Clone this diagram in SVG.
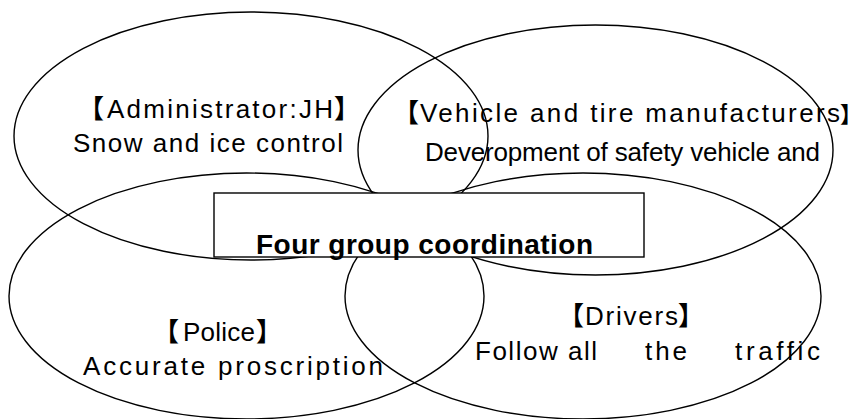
<svg xmlns="http://www.w3.org/2000/svg" width="862" height="419" viewBox="0 0 862 419">
<style>
.e{fill:none;stroke:#000;stroke-width:1.4}
.r{fill:#fff;stroke:#000;stroke-width:1.4}
.t{font-family:"Liberation Sans","Noto Sans CJK JP",sans-serif;fill:#000;font-size:26px}
.k{font-family:"Noto Sans CJK JP",sans-serif;font-weight:bold}
.b{font-weight:bold;font-size:28px}
</style>
<rect width="862" height="419" fill="#fff"/>
<g id="admin">
<ellipse class="e" cx="251" cy="136" rx="237" ry="124"/>
<text class="t" y="118"><tspan class="k" x="78">【</tspan><tspan x="107" textLength="226" lengthAdjust="spacing">Administrator:JH</tspan><tspan class="k" x="334">】</tspan></text>
<text class="t" x="73" y="152" textLength="270" lengthAdjust="spacing">Snow and ice control</text>
</g>
<g id="vehicle">
<ellipse class="e" cx="595.5" cy="150" rx="237.5" ry="125"/>
<text class="t" y="122"><tspan class="k" x="393">【</tspan><tspan x="420" textLength="420" lengthAdjust="spacing">Vehicle and tire manufacturers</tspan><tspan class="k" x="840" font-size="22">】</tspan></text>
<text class="t" x="425" y="161" font-size="21" textLength="395" lengthAdjust="spacing">Deveropment of safety vehicle and</text>
</g>
<g id="police">
<ellipse class="e" cx="246.5" cy="296" rx="237.5" ry="123"/>
<text class="t" y="341"><tspan class="k" x="153">【</tspan><tspan x="183" textLength="72" lengthAdjust="spacing">Police</tspan><tspan class="k" x="256">】</tspan></text>
<text class="t" x="83" y="375" textLength="300" lengthAdjust="spacing">Accurate proscription</text>
</g>
<g id="drivers">
<ellipse class="e" cx="583" cy="296" rx="238" ry="123"/>
<text class="t" y="325"><tspan class="k" x="558">【</tspan><tspan x="585" textLength="93" lengthAdjust="spacing">Drivers</tspan><tspan class="k" x="678">】</tspan></text>
<text class="t" y="360"><tspan x="475" textLength="122" lengthAdjust="spacing">Follow all</tspan><tspan x="645" textLength="42" lengthAdjust="spacing">the</tspan><tspan x="735" textLength="85" lengthAdjust="spacing">traffic</tspan></text>
</g>
<g id="coordination">
<rect class="r" x="214" y="193" width="430" height="64"/>
<text class="t b" x="256" y="254" textLength="337" lengthAdjust="spacing">Four group coordination</text>
</g>
<g id="connectors"></g>
</svg>
